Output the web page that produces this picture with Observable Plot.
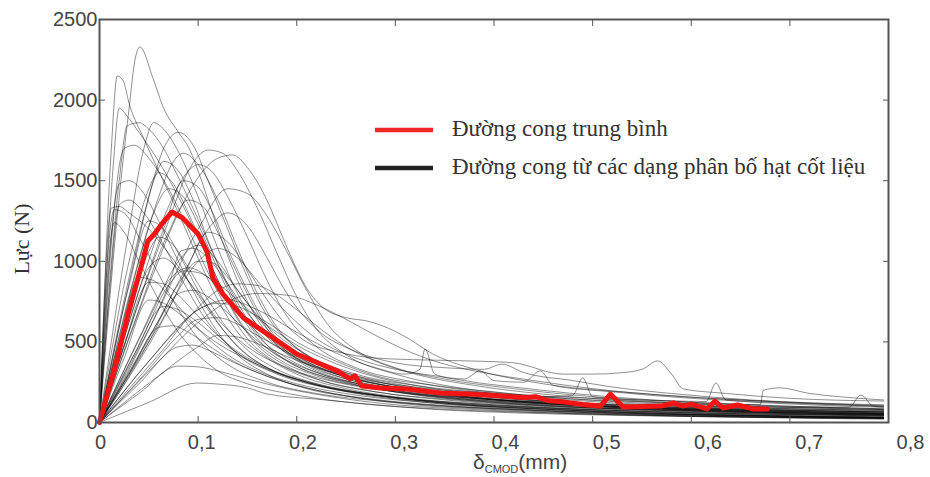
<!DOCTYPE html>
<html><head><meta charset="utf-8">
<script src="https://cdn.jsdelivr.net/npm/d3@7"></script>
<script src="https://cdn.jsdelivr.net/npm/@observablehq/plot@0.6"></script>
<style>
html,body{margin:0;padding:0;background:#fff;}
#wrap{position:relative;width:930px;height:477px;}
#wrap svg{position:absolute;left:0;top:0;}
</style></head><body><div id="wrap"></div>
<script>
const xTicks = [0, 0.1, 0.2, 0.3, 0.4, 0.5, 0.6, 0.7, 0.8];
const yTicks = [0, 500, 1000, 1500, 2000, 2500];
const yLabel = "Lực (N)";
const xLabelMain = "δ", xLabelSub = "CMOD", xLabelUnit = "(mm)";
const legendLabels = ["Đường cong trung bình", "Đường cong từ các dạng phân bố hạt cốt liệu"];

// mean curve (red)
const meanCurve = [[0,0],[0.0157,340],[0.029,673],[0.043,983],[0.049,1126],[0.055,1165],[0.063,1230],[0.0736,1306],[0.084,1270],[0.1,1170],[0.109,1060],[0.115,897],[0.125,798],[0.146,649],[0.176,525],[0.2,425],[0.224,363],[0.241,320],[0.254,270],[0.259,289],[0.266,226],[0.285,214],[0.312,208],[0.346,183],[0.38,175],[0.4,168],[0.43,155],[0.442,160],[0.455,135],[0.47,128],[0.49,112],[0.508,102],[0.518,176],[0.531,96],[0.55,100],[0.57,102],[0.582,121],[0.592,102],[0.6,114],[0.616,84],[0.624,133],[0.632,90],[0.647,109],[0.663,84],[0.677,84]];

// individual curves (black)
const c01 = [[0,0],[0.012,1700],[0.018,2150],[0.024,2120],[0.03,1980],[0.045,1760],[0.06,1560],[0.08,1300],[0.1,1020],[0.12,760],[0.14,560],[0.17,400],[0.2,300],[0.25,210],[0.3,160],[0.4,110],[0.5,80],[0.6,60],[0.7,50],[0.795,40]];
const c02 = [[0,0],[0.014,1600],[0.02,1950],[0.028,1900],[0.04,1800],[0.06,1620],[0.08,1400],[0.1,1150],[0.12,880],[0.14,640],[0.16,480],[0.19,350],[0.22,270],[0.28,190],[0.35,140],[0.45,100],[0.55,75],[0.65,60],[0.795,45]];
const c03 = [[0,0],[0.02,1500],[0.028,1840],[0.04,1860],[0.05,1820],[0.065,1700],[0.08,1520],[0.1,1260],[0.12,980],[0.14,720],[0.16,540],[0.19,400],[0.23,290],[0.28,220],[0.35,160],[0.45,115],[0.55,90],[0.65,75],[0.795,60]];
const c04 = [[0,0],[0.02,1400],[0.03,1950],[0.036,2250],[0.041,2330],[0.054,2140],[0.065,1950],[0.079,1810],[0.092,1686],[0.1,1560],[0.12,1200],[0.14,880],[0.16,640],[0.18,480],[0.21,350],[0.25,260],[0.3,200],[0.4,140],[0.5,105],[0.6,85],[0.7,70],[0.795,55]];
const c05 = [[0,0],[0.012,1330],[0.02,1340],[0.03,1300],[0.05,1200],[0.07,1050],[0.09,880],[0.11,700],[0.13,540],[0.15,420],[0.18,310],[0.22,230],[0.28,170],[0.35,125],[0.45,90],[0.55,70],[0.65,55],[0.795,40]];
const c06 = [[0,0],[0.025,1700],[0.035,1720],[0.05,1640],[0.07,1450],[0.09,1200],[0.11,930],[0.13,700],[0.15,520],[0.18,370],[0.22,270],[0.28,190],[0.36,140],[0.46,100],[0.56,80],[0.66,65],[0.795,50]];
const c07 = [[0,0],[0.02,1480],[0.03,1500],[0.045,1420],[0.06,1250],[0.08,1000],[0.1,760],[0.12,560],[0.14,420],[0.17,300],[0.21,210],[0.27,150],[0.35,105],[0.45,75],[0.55,55],[0.65,45],[0.795,35]];
const c08 = [[0,0],[0.015,1240],[0.025,1180],[0.04,1000],[0.06,760],[0.08,560],[0.1,420],[0.12,320],[0.15,240],[0.2,170],[0.26,120],[0.34,85],[0.45,60],[0.55,45],[0.65,35],[0.795,25]];
const c09 = [[0,0],[0.03,1200],[0.045,1700],[0.055,1860],[0.065,1820],[0.08,1680],[0.1,1400],[0.12,1080],[0.14,800],[0.16,600],[0.19,430],[0.23,320],[0.28,240],[0.35,175],[0.45,125],[0.55,95],[0.65,80],[0.795,65]];
const c10 = [[0,0],[0.03,900],[0.05,1400],[0.065,1700],[0.08,1800],[0.095,1720],[0.11,1500],[0.13,1200],[0.15,900],[0.17,660],[0.2,460],[0.24,330],[0.3,240],[0.38,170],[0.48,120],[0.58,95],[0.68,80],[0.795,65]];
const c11 = [[0,0],[0.04,1000],[0.06,1400],[0.075,1620],[0.085,1670],[0.1,1600],[0.12,1380],[0.14,1080],[0.16,800],[0.18,590],[0.21,420],[0.25,310],[0.3,230],[0.38,170],[0.48,125],[0.58,100],[0.68,85],[0.795,70]];
const c12 = [[0,0],[0.04,750],[0.07,1250],[0.09,1560],[0.11,1690],[0.125,1670],[0.14,1560],[0.16,1330],[0.18,1050],[0.2,780],[0.22,580],[0.25,420],[0.3,300],[0.36,220],[0.45,160],[0.55,120],[0.65,95],[0.795,75]];
const c13 = [[0,0],[0.05,850],[0.08,1300],[0.1,1520],[0.12,1640],[0.135,1660],[0.15,1581],[0.17,1376],[0.183,1189],[0.196,1003],[0.21,835],[0.227,711],[0.251,649],[0.271,630],[0.292,587],[0.312,525],[0.338,425],[0.38,330],[0.45,240],[0.55,180],[0.65,140],[0.795,105]];
const c14 = [[0,0],[0.04,820],[0.07,1340],[0.09,1560],[0.1,1600],[0.115,1550],[0.13,1400],[0.15,1150],[0.17,880],[0.19,660],[0.22,470],[0.26,340],[0.32,250],[0.4,180],[0.5,130],[0.6,100],[0.7,85],[0.795,75]];
const c15 = [[0,0],[0.03,1000],[0.05,1450],[0.06,1550],[0.075,1480],[0.09,1300],[0.11,1020],[0.13,760],[0.15,560],[0.18,400],[0.22,290],[0.28,210],[0.36,150],[0.46,105],[0.56,80],[0.66,65],[0.795,50]];
const c16 = [[0,0],[0.035,900],[0.055,1300],[0.07,1450],[0.085,1400],[0.1,1230],[0.12,950],[0.14,700],[0.16,520],[0.19,380],[0.23,280],[0.29,200],[0.37,140],[0.47,100],[0.57,75],[0.67,60],[0.795,45]];
const c17 = [[0,0],[0.04,700],[0.07,1180],[0.09,1380],[0.105,1340],[0.12,1180],[0.14,920],[0.16,680],[0.18,500],[0.21,360],[0.25,270],[0.31,200],[0.4,140],[0.5,105],[0.6,85],[0.7,70],[0.795,60]];
const c18 = [[0,0],[0.03,850],[0.05,1250],[0.065,1200],[0.08,1050],[0.1,820],[0.12,620],[0.14,470],[0.17,340],[0.21,250],[0.27,180],[0.35,125],[0.45,90],[0.55,65],[0.65,50],[0.795,35]];
const c19 = [[0,0],[0.04,450],[0.07,850],[0.083,1065],[0.095,1080],[0.11,1020],[0.13,860],[0.15,680],[0.17,540],[0.2,400],[0.24,290],[0.3,210],[0.38,150],[0.48,105],[0.58,80],[0.68,65],[0.795,50]];
const c20 = [[0,0],[0.05,500],[0.08,860],[0.1,1000],[0.115,990],[0.13,900],[0.15,740],[0.17,580],[0.2,430],[0.24,320],[0.3,230],[0.38,165],[0.48,120],[0.58,95],[0.68,80],[0.795,65]];
const c21 = [[0,0],[0.04,750],[0.065,1200],[0.085,1500],[0.1,1460],[0.115,1300],[0.13,1080],[0.15,820],[0.17,600],[0.2,420],[0.24,300],[0.3,220],[0.38,155],[0.48,110],[0.58,85],[0.68,70],[0.795,55]];
const c22 = [[0,0],[0.035,1000],[0.055,1500],[0.065,1620],[0.08,1560],[0.095,1380],[0.11,1130],[0.13,860],[0.15,640],[0.17,480],[0.2,350],[0.25,250],[0.31,180],[0.4,125],[0.5,90],[0.6,70],[0.7,55],[0.795,45]];
const c23 = [[0,0],[0.03,700],[0.05,1060],[0.06,1150],[0.075,1100],[0.09,960],[0.11,760],[0.13,580],[0.15,450],[0.18,330],[0.22,240],[0.28,170],[0.36,115],[0.46,80],[0.56,60],[0.66,45],[0.795,30]];
const c24 = [[0,0],[0.02,500],[0.04,900],[0.055,880],[0.07,790],[0.09,650],[0.11,520],[0.13,420],[0.16,320],[0.2,240],[0.26,170],[0.34,120],[0.44,85],[0.54,60],[0.64,45],[0.795,30]];
const c25 = [[0,0],[0.025,480],[0.05,870],[0.065,860],[0.08,790],[0.1,660],[0.12,540],[0.14,440],[0.17,340],[0.21,250],[0.27,175],[0.35,120],[0.45,85],[0.55,60],[0.65,45],[0.795,30]];
const c26 = [[0,0],[0.04,420],[0.065,680],[0.08,800],[0.095,820],[0.11,780],[0.13,680],[0.15,560],[0.18,420],[0.22,310],[0.27,230],[0.33,170],[0.42,125],[0.52,95],[0.62,75],[0.72,60],[0.795,55]];
const c27 = [[0,0],[0.05,380],[0.09,650],[0.12,820],[0.14,860],[0.16,850],[0.18,790],[0.2,700],[0.22,600],[0.25,470],[0.28,380],[0.32,300],[0.38,230],[0.46,170],[0.56,125],[0.66,100],[0.795,80]];
const c28 = [[0,0],[0.06,380],[0.1,620],[0.13,750],[0.16,800],[0.19,790],[0.22,730],[0.25,640],[0.28,540],[0.31,450],[0.34,380],[0.38,320],[0.44,260],[0.5,210],[0.58,165],[0.68,130],[0.795,100]];
const c29 = [[0,0],[0.035,420],[0.065,720],[0.08,700],[0.1,620],[0.12,520],[0.14,430],[0.17,330],[0.21,250],[0.26,180],[0.33,125],[0.42,85],[0.52,60],[0.62,45],[0.795,30]];
const c30 = [[0,0],[0.05,330],[0.08,540],[0.1,640],[0.12,650],[0.14,610],[0.16,540],[0.19,440],[0.22,350],[0.26,270],[0.32,200],[0.4,145],[0.5,105],[0.6,80],[0.7,65],[0.795,55]];
const c31 = [[0,0],[0.03,300],[0.06,590],[0.075,600],[0.09,560],[0.11,480],[0.13,400],[0.16,310],[0.2,230],[0.25,165],[0.32,115],[0.42,80],[0.52,55],[0.62,40],[0.795,25]];
const c32 = [[0,0],[0.06,290],[0.1,470],[0.12,540],[0.14,530],[0.16,490],[0.19,410],[0.22,340],[0.26,270],[0.31,210],[0.38,155],[0.46,115],[0.56,85],[0.66,65],[0.795,50]];
const c33 = [[0,0],[0.04,240],[0.08,470],[0.095,480],[0.11,450],[0.13,390],[0.16,310],[0.2,230],[0.25,165],[0.31,115],[0.4,80],[0.5,55],[0.6,40],[0.795,25]];
const c34 = [[0,0],[0.05,125],[0.099,245],[0.119,239],[0.15,215],[0.17,177],[0.22,145],[0.27,115],[0.33,85],[0.42,60],[0.52,45],[0.62,35],[0.795,20]];
const c35 = [[0,0],[0.04,180],[0.08,350],[0.1,345],[0.12,320],[0.15,270],[0.19,210],[0.24,155],[0.3,110],[0.38,80],[0.48,55],[0.58,40],[0.795,25]];
const c36 = [[0,0],[0.04,480],[0.07,850],[0.085,940],[0.1,930],[0.12,860],[0.14,760],[0.16,650],[0.18,560],[0.2,480],[0.23,390],[0.27,300],[0.33,220],[0.41,155],[0.5,115],[0.6,90],[0.7,75],[0.795,65]];
const c37 = [[0,0],[0.025,400],[0.05,760],[0.065,740],[0.08,680],[0.1,580],[0.12,490],[0.15,390],[0.18,310],[0.22,240],[0.28,170],[0.36,115],[0.46,80],[0.56,55],[0.66,40],[0.795,30]];
const c38 = [[0,0],[0.05,520],[0.09,980],[0.11,1180],[0.13,1120],[0.15,950],[0.17,760],[0.19,600],[0.21,500],[0.24,440],[0.28,400],[0.33,388],[0.386,380],[0.42,370],[0.47,300],[0.5,300],[0.528,308],[0.55,330],[0.566,382],[0.58,300],[0.592,208],[0.63,183],[0.7,150],[0.795,133]];
const c39 = [[0,0],[0.05,380],[0.1,700],[0.13,760],[0.16,700],[0.2,560],[0.24,430],[0.28,340],[0.31,300],[0.325,330],[0.33,456],[0.34,300],[0.37,260],[0.42,220],[0.48,180],[0.56,140],[0.66,110],[0.795,85]];
const c40 = [[0,0],[0.06,420],[0.1,700],[0.12,740],[0.14,720],[0.17,620],[0.2,500],[0.24,380],[0.28,290],[0.34,230],[0.4,190],[0.46,160],[0.48,170],[0.49,277],[0.5,160],[0.56,130],[0.62,110],[0.7,95],[0.795,80]];
const c41 = [[0,0],[0.04,520],[0.07,880],[0.09,960],[0.11,900],[0.13,760],[0.16,560],[0.2,400],[0.25,290],[0.32,220],[0.4,180],[0.5,150],[0.58,135],[0.615,130],[0.625,245],[0.635,140],[0.7,115],[0.795,95]];
const c42 = [[0,0],[0.05,640],[0.08,1000],[0.1,1100],[0.12,1000],[0.14,820],[0.17,600],[0.21,420],[0.26,300],[0.32,230],[0.4,180],[0.5,140],[0.6,120],[0.67,110],[0.673,200],[0.69,215],[0.72,180],[0.75,160],[0.795,140]];
const c43 = [[0,0],[0.03,620],[0.05,960],[0.065,1020],[0.08,950],[0.1,800],[0.12,640],[0.15,470],[0.19,340],[0.24,250],[0.3,190],[0.38,150],[0.48,120],[0.58,105],[0.68,95],[0.76,95],[0.772,170],[0.785,100],[0.795,95]];
const c44 = [[0,0],[0.06,600],[0.1,1000],[0.12,1080],[0.14,1020],[0.16,880],[0.19,680],[0.22,520],[0.26,400],[0.3,330],[0.34,290],[0.37,270],[0.386,320],[0.4,260],[0.43,250],[0.447,320],[0.46,230],[0.52,190],[0.6,150],[0.7,120],[0.795,100]];
const c45 = [[0,0],[0.07,700],[0.11,1200],[0.13,1300],[0.15,1220],[0.17,1020],[0.19,800],[0.22,580],[0.26,440],[0.3,370],[0.35,340],[0.39,330],[0.408,362],[0.43,310],[0.48,260],[0.52,220],[0.58,180],[0.66,140],[0.795,110]];
const c46 = [[0,0],[0.06,700],[0.1,1200],[0.13,1450],[0.15,1420],[0.17,1280],[0.19,1060],[0.21,820],[0.23,620],[0.26,450],[0.3,340],[0.35,270],[0.42,210],[0.5,160],[0.6,125],[0.7,100],[0.795,85]];
const c47 = [[0,0],[0.008,1000],[0.015,1320],[0.025,1300],[0.04,1150],[0.06,920],[0.08,700],[0.1,520],[0.13,360],[0.17,250],[0.22,180],[0.3,125],[0.4,85],[0.5,60],[0.6,45],[0.795,30]];
const c48 = [[0,0],[0.01,800],[0.02,1350],[0.03,1380],[0.045,1300],[0.065,1100],[0.085,870],[0.11,620],[0.14,430],[0.18,300],[0.23,215],[0.3,155],[0.4,110],[0.5,80],[0.6,60],[0.795,45]];

const blackCurves = [c01,c02,c03,c04,c05,c06,c07,c08,c09,c10,c11,c12,c13,c14,c15,c16,c17,c18,c19,c20,c21,c22,c23,c24,c25,c26,c27,c28,c29,c30,c31,c32,c33,c34,c35,c36,c37,c38,c39,c40,c41,c42,c43,c44,c45,c46,c47,c48];

const rows = blackCurves.flatMap((c, i) => c.map(([x, y]) => ({id: i, x, y})));
const meanRows = meanCurve.map(([x, y]) => ({x, y}));
const fmtX = d => String(d).replace(".", ",");
const fmtY = d => String(d);

const W = 930, H = 477;
const frameColor = "#555";
const textColor = "#444";

const main = Plot.plot({
  width: W, height: H,
  marginLeft: 99, marginRight: 42, marginTop: 19, marginBottom: 55,
  x: {domain: [0, 0.8]},
  y: {domain: [0, 2500]},
  style: {background: "transparent", fontFamily: "'Liberation Sans', Arial, sans-serif", fontSize: "20px"},
  marks: [
    Plot.line(rows, {x: "x", y: "y", z: "id", stroke: "#000", strokeOpacity: 0.55, strokeWidth: 0.8, curve: "monotone-x"}),
    Plot.line(meanRows, {x: "x", y: "y", stroke: "#f01414", strokeWidth: 5, strokeLinejoin: "round", strokeLinecap: "round"}),
    Plot.frame({stroke: frameColor, strokeWidth: 2}),
    Plot.axisX({anchor: "bottom", ticks: xTicks, tickSize: -6, fill: "none", stroke: frameColor, label: null}),
    Plot.axisX({anchor: "top", ticks: xTicks, tickSize: -6, fill: "none", stroke: frameColor, label: null}),
    Plot.axisY({anchor: "right", ticks: yTicks, tickSize: -6, fill: "none", stroke: frameColor, label: null}),
    Plot.axisY({anchor: "left", ticks: yTicks, tickSize: -6, fill: "none", stroke: frameColor, label: null}),
    Plot.axisY({anchor: "left", ticks: yTicks, tickSize: 0, tickPadding: 2, tickFormat: fmtY, fill: textColor, fontSize: 20, label: null})
  ]
});

// tick labels along x (their own placement, as printed in the original figure)
const xLabels = Plot.plot({
  width: W, height: H,
  marginLeft: 100, marginRight: 20, marginTop: 19, marginBottom: 55,
  x: {domain: [0, 0.8]},
  style: {background: "transparent", fontFamily: "'Liberation Sans', Arial, sans-serif", fontSize: "20px"},
  marks: [
    Plot.axisX({anchor: "bottom", ticks: xTicks, tickSize: 0, tickPadding: 12, tickFormat: fmtX, fill: textColor, fontSize: 20, label: null})
  ]
});

const wrap = document.getElementById("wrap");
wrap.appendChild(main);
wrap.appendChild(xLabels);

const svg = d3.select(main);
// y axis title
svg.append("text")
  .attr("transform", "translate(29,239) rotate(-90)")
  .attr("text-anchor", "middle")
  .attr("font-family", "'Liberation Serif', 'Times New Roman', serif")
  .attr("font-size", 22)
  .attr("fill", "#333")
  .text(yLabel);

// x axis title with subscript
const xt = svg.append("text")
  .attr("x", 473).attr("y", 469)
  .attr("text-anchor", "start")
  .attr("font-family", "'Liberation Sans', Arial, sans-serif")
  .attr("font-size", 21)
  .attr("fill", textColor);
xt.append("tspan").text(xLabelMain);
xt.append("tspan").attr("font-size", 11).attr("dy", 4).text(xLabelSub);
xt.append("tspan").attr("dy", -4).text(xLabelUnit);

// legend
const lg = svg.append("g");
const legendColors = ["#f02828", "#222"];
legendLabels.forEach((t, i) => {
  const yy = 130 + i * 38;
  lg.append("line").attr("x1", 375).attr("x2", 433).attr("y1", yy).attr("y2", yy)
    .attr("stroke", legendColors[i]).attr("stroke-width", 4.5);
  lg.append("text").attr("x", 452).attr("y", yy + 6)
    .attr("text-anchor", "start")
    .attr("font-family", "'Liberation Serif', 'Times New Roman', serif")
    .attr("font-size", 23).attr("fill", "#333").text(t);
});
</script>
</body></html>
